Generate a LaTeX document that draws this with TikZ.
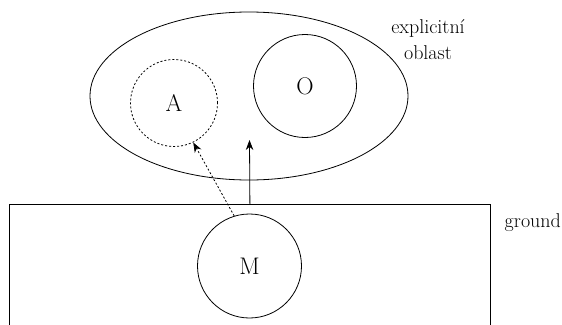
\documentclass[tikz,border=0pt]{standalone}
\usepackage{tikz}
\usetikzlibrary{arrows.meta,positioning,shapes.geometric}

\begin{document}
\begin{tikzpicture}[
  x=1pt, y=-1pt,
  line width=0.8pt,
  area/.style={ellipse, draw, minimum width=318pt, minimum height=168pt,
               inner sep=0pt},
  obj/.style={circle, draw, inner sep=0pt, font=\fontsize{24}{24}\selectfont},
  lbl/.style={font=\fontsize{20}{26}\selectfont, align=center},
  arr/.style={-{Stealth[length=10pt,width=7.5pt]}},
  darr/.style={-{Stealth[length=10pt,width=7.5pt]}, dash pattern=on 2pt off 2pt},
]
  \useasboundingbox (0,0) rectangle (562,324);

  % Explicit region
  \node[area] (oblast) at (249,96) {};
  \node[obj, minimum size=87pt, dash pattern=on 2pt off 2pt] (a) at (174,103) {A};
  \node[obj, minimum size=103pt] (o) at (305,86) {O};
  \node[lbl, anchor=base] (expl) at (428,59) {explicitní\\oblast};

  % Ground
  \node[draw, rectangle, minimum width=481pt, minimum height=150pt,
        inner sep=0pt, anchor=north west] (gnd) at (9,204) {};
  \node[obj, minimum size=104pt] (m) at (249.5,266) {M};
  \node[lbl, anchor=base west] (grd) at (501,227) {ground};

  % Arrows
  \coordinate (tip) at (249.5,140);
  \draw[arr] (gnd.north) -- (tip);
  \draw[darr] (m.107) -- (a.-64);
\end{tikzpicture}
\end{document}
